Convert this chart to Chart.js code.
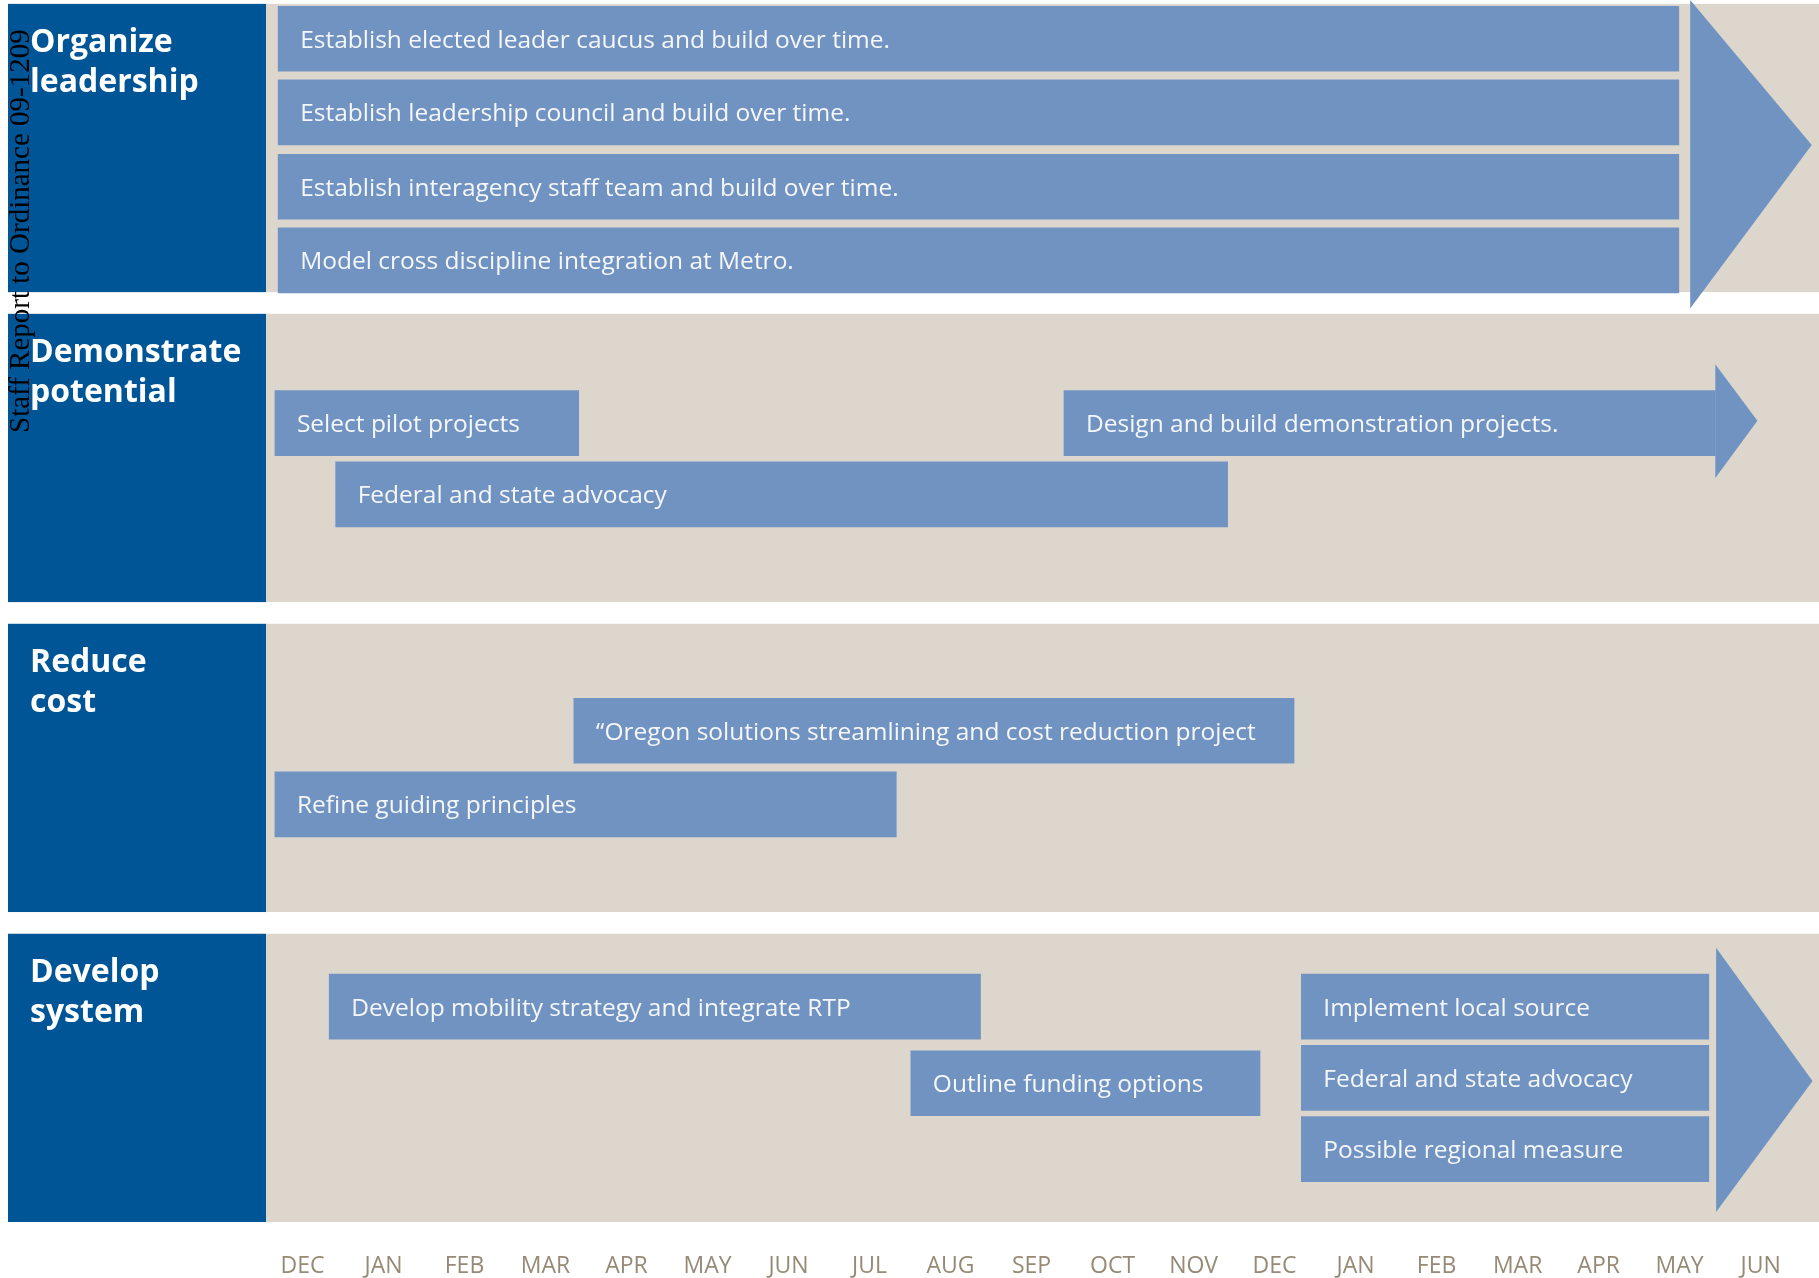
<!DOCTYPE html>
<html><head><meta charset="utf-8">
<script src="https://cdn.jsdelivr.net/npm/chart.js@4.4.1/dist/chart.umd.min.js"></script>
<style>html,body{margin:0;padding:0;background:#fff;overflow:hidden}canvas{display:block}</style>
</head><body>
<canvas id="c" width="1819" height="1278"></canvas>
<script>
// ---- data ----
const months = ['DEC','JAN','FEB','MAR','APR','MAY','JUN','JUL','AUG','SEP','OCT','NOV','DEC','JAN','FEB','MAR','APR','MAY','JUN'];
const rowTitles = [['Organize','leadership'],['Demonstrate','potential'],['Reduce','cost'],['Develop','system']];
const taskLabels = [
  'Establish elected leader caucus and build over time.',
  'Establish leadership council and build over time.',
  'Establish interagency staff team and build over time.',
  'Model cross discipline integration at Metro.',
  'Select pilot projects',
  'Design and build demonstration projects.',
  'Federal and state advocacy',
  '\u201cOregon solutions streamlining and cost reduction project',
  'Refine guiding principles',
  'Develop mobility strategy and integrate RTP',
  'Outline funding options',
  'Implement local source',
  'Federal and state advocacy',
  'Possible regional measure'
];
const taskStart = [-0.30,-0.30,-0.30,-0.30,-0.34, 9.40, 0.41, 3.35,-0.34, 0.33, 7.51,12.33,12.33,12.33];
const taskEnd   = [16.99,16.99,16.99,16.99, 3.41,17.44,11.42,12.24, 7.33, 8.37,11.82,17.36,17.36,17.36];
const taskLane  = [0.45, 1.40, 2.36, 3.31, 5.41, 5.41, 6.33, 9.38,10.33,12.94,13.93,12.94,13.86,14.78];
// arrow heads (x in month units, y in lane units)
const arrowBase   = [17.13, 17.44, 17.45];
const arrowTip    = [18.63, 17.96, 18.64];
const arrowTop    = [-0.05, 4.65, 12.18];
const arrowBottom = [3.93, 6.12, 15.59];
const arrowPoint  = [1.82, 5.38, 13.90];
const watermark = 'Staff Report to Ordinance 09-1209';

// ---- styles ----
const BEIGE = '#ddd6cc', NAVY = '#005596', BAR = '#7193c1', MONTH = '#968a76';
const ROW_SPAN = 3.72;

const drawPlugin = {
  id: 'roadmap',
  beforeDatasetsDraw(chart) {
    const {ctx, chartArea: a, scales: {y}} = chart;
    ctx.save();
    rowTitles.forEach((t, k) => {
      const top = y.getPixelForValue(k * 4), bot = y.getPixelForValue(k * 4 + ROW_SPAN);
      ctx.fillStyle = BEIGE;
      ctx.fillRect(a.left, top, a.right - a.left, bot - top);
      ctx.fillStyle = NAVY;
      ctx.fillRect(8, top, a.left - 8, bot - top);
      ctx.fillStyle = '#ffffff';
      ctx.font = 'bold 32px "Open Sans"';
      ctx.textAlign = 'left';
      ctx.textBaseline = 'alphabetic';
      t.forEach((line, i) => ctx.fillText(line, 30, top + 48.5 + i * 40));
    });
    ctx.restore();
  },
  afterDatasetsDraw(chart) {
    const {ctx, scales: {x, y}} = chart;
    ctx.save();
    ctx.fillStyle = BAR;
    arrowBase.forEach((b, i) => {
      ctx.beginPath();
      ctx.moveTo(x.getPixelForValue(b), y.getPixelForValue(arrowTop[i]));
      ctx.lineTo(x.getPixelForValue(arrowTip[i]), y.getPixelForValue(arrowPoint[i]));
      ctx.lineTo(x.getPixelForValue(b), y.getPixelForValue(arrowBottom[i]));
      ctx.closePath();
      ctx.fill();
    });
    const meta = chart.getDatasetMeta(0);
    ctx.fillStyle = '#f5f7fb';
    ctx.font = '24.5px "Open Sans"';
    ctx.textAlign = 'left';
    ctx.textBaseline = 'alphabetic';
    meta.data.forEach((el, i) => {
      const left = Math.min(el.x, el.base);
      ctx.fillText(taskLabels[i], left + 22, el.y + 9);
    });
    ctx.restore();
  },
  afterDraw(chart) {
    const ctx = chart.ctx;
    ctx.save();
    ctx.translate(29, 433);
    ctx.rotate(-Math.PI / 2);
    ctx.fillStyle = '#000';
    ctx.font = '29px "Liberation Serif"';
    ctx.textAlign = 'left';
    ctx.textBaseline = 'alphabetic';
    ctx.fillText(watermark, 0, 0);
    ctx.restore();
  }
};

new Chart(document.getElementById('c'), {
  type: 'bar',
  data: {
    datasets: [{
      data: taskLabels.map((_, i) => ({x: [taskStart[i], taskEnd[i]], y: taskLane[i]})),
      backgroundColor: BAR,
      borderWidth: 0,
      borderSkipped: false,
      barThickness: 65
    }]
  },
  options: {
    responsive: false,
    animation: false,
    devicePixelRatio: 1,
    indexAxis: 'y',
    layout: {padding: {left: 266, right: 0, top: 0, bottom: 0}},
    plugins: {legend: {display: false}, tooltip: {enabled: false}},
    scales: {
      x: {
        type: 'linear', position: 'bottom', min: -0.45, max: 18.72, offset: false,
        grid: {display: false}, border: {display: false},
        afterBuildTicks: s => { s.ticks = months.map((m, i) => ({value: i})); },
        afterFit: s => { s.height = 56; },
        ticks: {
          autoSkip: false, maxRotation: 0, minRotation: 0, padding: 23,
          color: MONTH, font: {family: 'Open Sans', size: 23},
          callback: v => months[v]
        }
      },
      y: {type: 'linear', reverse: true, min: -0.05, max: 15.72, offset: false, display: false}
    }
  },
  plugins: [drawPlugin]
});
</script>
</body></html>
